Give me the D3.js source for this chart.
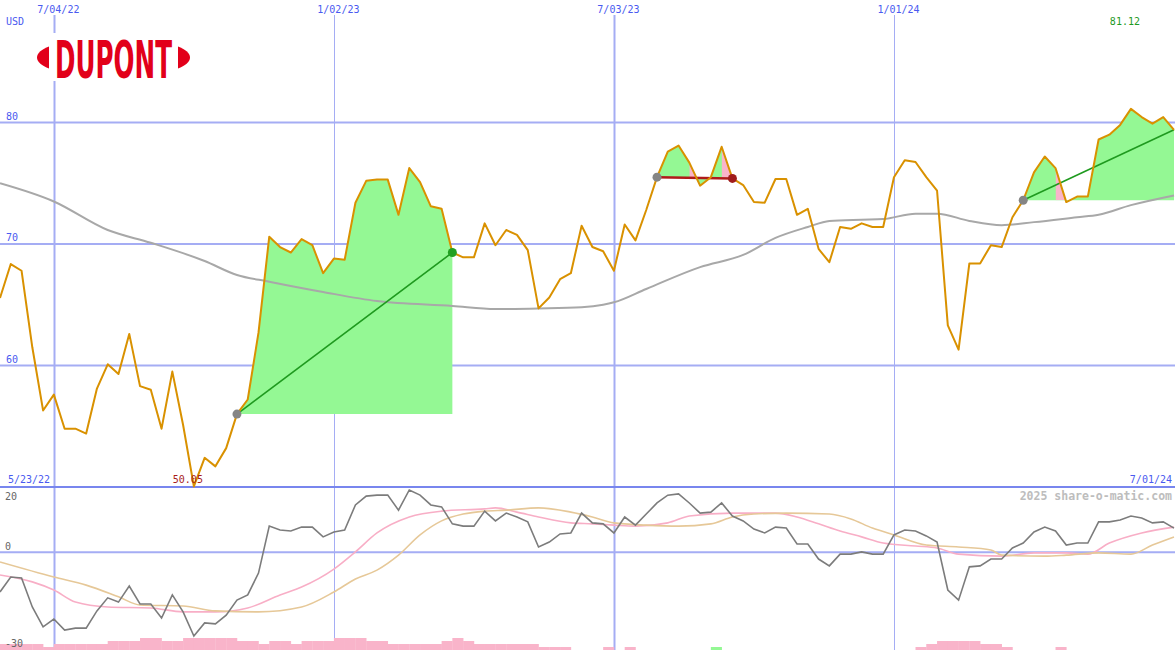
<!DOCTYPE html>
<html><head><meta charset="utf-8">
<script src="https://cdn.jsdelivr.net/npm/d3@7"></script>
<style>html,body{margin:0;padding:0;background:#fff;}svg{display:block;}</style>
</head><body><svg id="c" width="1175" height="650"></svg>
<script>
// ---------- DATA ----------
const startDate = "2022-05-30"; // first weekly point (left edge)
const price = [65.55,68.35,67.8,61.5,56.3,57.6,54.8,54.8,54.4,58.1,
 60.1,59.3,62.6,58.3,58.0,54.8,59.5,55.1,50.05,52.4,
 51.7,53.2,56.0,57.2,62.7,70.6,69.75,69.3,70.4,69.9,
 67.6,68.8,68.7,73.4,75.2,75.3,75.3,72.4,76.25,75.1,
 73.1,72.9,69.3,68.9,68.9,71.7,69.9,71.15,70.75,69.5,
 64.7,65.6,67.1,67.6,71.5,69.75,69.4,67.8,71.6,70.3,
 72.8,75.5,77.6,78.1,76.7,74.8,75.5,78.0,75.4,74.85,
 73.45,73.4,75.35,75.35,72.4,72.9,69.6,68.5,71.4,71.25,
 71.7,71.4,71.4,75.5,76.9,76.75,75.5,74.4,63.3,61.3,
 68.4,68.4,69.9,69.75,72.2,73.6,75.9,77.2,76.25,73.45,
 73.9,73.9,78.6,79.0,79.8,81.12,80.45,79.9,80.45,79.4];
const maIdx = [0,5,10,14,19,22,25,30,35,42,46,50,54,56,57,60,65,69,72,75,77,80,82,85,87,90,93,96,100,102,105,109];
const maVal = [75.0,73.5,71.15,70.1,68.6,67.45,66.9,66.05,65.3,64.9,64.65,64.7,64.8,65.0,65.2,66.3,68.1,69.1,70.5,71.4,71.9,72.0,72.05,72.5,72.5,71.9,71.55,71.8,72.2,72.4,73.2,74.0];
const osc = [-12.2,-7.6,-7.9,-16.8,-22.9,-20.5,-23.9,-23.3,-23.3,-18.0,
 -14.0,-15.3,-10.4,-15.9,-15.9,-20.2,-13.1,-18.3,-25.7,-21.7,
 -22.0,-19.3,-14.7,-13.1,-6.4,8.0,6.8,6.5,7.7,7.7,
 4.7,6.2,6.8,14.5,17.2,17.5,17.5,12.9,19.1,17.5,
 14.5,13.9,8.7,8.0,8.0,12.6,9.6,12.0,10.8,9.3,
 1.6,3.1,5.6,5.9,12.0,9.0,8.7,5.9,10.8,8.3,
 11.7,15.1,17.5,17.9,15.1,12.0,12.3,15.1,11.1,9.6,
 7.1,5.9,7.7,7.4,2.5,2.5,-2.1,-4.2,-0.6,-0.6,
 0.1,-0.6,-0.6,5.3,6.8,6.5,5.0,3.1,-11.6,-14.7,
 -4.5,-4.2,-2.1,-2.1,1.3,2.8,6.2,7.7,6.5,2.2,
 2.8,2.8,9.3,9.3,9.9,11.1,10.5,9.0,9.3,7.4];
const sigIdx = [0,3,5,7,10,14,17,20,23,26,28,31,33,35,38,41,45,46,48,50,53,55,57,59,62,64,68,70,72,74,76,78,80,82,85,87,89,93,96,99,101,103,106,109];
const sigVal = [-7.0,-9.1,-11.6,-15.3,-16.8,-17.1,-18.3,-18.3,-17.1,-13.1,-10.7,-5.2,0.1,5.9,10.8,12.6,13.3,13.6,12.3,10.8,9.0,8.7,8.3,8.0,9.0,11.1,12.0,12.0,12.0,10.8,8.7,6.5,4.7,2.8,1.9,1.3,-0.6,-1.2,-0.2,-0.2,-0.6,2.8,5.9,7.7];
const slowIdx = [0,5,8,11,13,17,20,24,28,31,33,35,37,39,41,43,45,47,50,53,55,57,60,63,66,68,70,73,77,79,81,83,86,89,92,93,97,99,102,105,107,109];
const slowVal = [-3.0,-7.6,-10.1,-13.7,-16.2,-16.5,-18.0,-18.3,-16.8,-12.2,-8.2,-5.5,-0.9,5.3,9.6,11.7,12.6,12.9,13.6,12.3,10.8,9.0,8.3,8.0,8.7,10.8,11.7,12.0,11.7,10.2,7.4,5.3,2.2,1.6,0.7,-0.9,-1.2,-0.9,-0.2,-0.6,2.2,4.7];
const hist = [2,2,2,2,1,2,2,2,2,2,
 3,3,3,4,4,3,3,4,4,4,
 4,4,3,3,2,3,3,2,3,3,
 3,4,4,4,3,3,2,2,2,2,
 2,3,4,3,2,2,2,2,2,2,
 1,1,1,0,0,0,1,0,1,0,
 0,0,0,0,0,0,1,0,0,0,
 0,0,0,0,0,0,0,0,0,0,
 0,0,0,0,0,1,2,3,3,3,
 3,2,2,1,0,0,0,0,1,0,
 0,0,0,0,0,0,0,0,0,0];
const histGreen = [66];
const trendStart = [22, 61, 95];
const trendEnd = [42, 68, 109];
const trendClosed = [true, true, false];
const pinkSegs = [64, 67, 98];
const dateTicks = ["2022-07-04","2023-01-02","2023-07-03","2024-01-01"];
const dateTickLabels = ["7/04/22","1/02/23","7/03/23","1/01/24"];
const firstLabel = "5/23/22", lastLabel = "7/01/24";
const priceTicks = [60,70,80];
const lowTicks = [20,0,-30];
const currency = "USD";
const credit = "2025 share-o-matic.com";
const brand = "DUPONT";

// ---------- SCALES ----------
const parse = d3.utcParse("%Y-%m-%d");
const t0 = parse(startDate);
const dates = price.map((_, i) => d3.utcDay.offset(t0, 7 * i));
const x = d3.scaleUtc().domain([t0, dates[dates.length - 1]]).range([0, 1174]);
const yP = d3.scaleLinear().domain([50, 90]).range([487, 1]);
const yL = d3.scaleLinear().domain([-30, 20]).range([650, 487]);
const yH = d3.scaleLinear().domain([0, 4]).range([650, 638]);

const svg = d3.select("#c");
const FONT = "'DejaVu Sans Mono', monospace";
const GRID = "#a5adf4";
svg.append("rect").attr("width", 1175).attr("height", 650).attr("fill", "#ffffff");

// ---------- GRID ----------
svg.append("g").selectAll("line").data(priceTicks).join("line")
  .attr("x1", 0).attr("x2", 1175).attr("y1", d => yP(d)).attr("y2", d => yP(d))
  .attr("stroke", GRID).attr("stroke-width", 2);
svg.append("g").selectAll("line").data(dateTicks).join("line")
  .attr("x1", d => Math.round(x(parse(d))) + 0.5).attr("x2", d => Math.round(x(parse(d))) + 0.5)
  .attr("y1", 15).attr("y2", 650)
  .attr("stroke", GRID).attr("stroke-width", (d, i) => i % 2 === 0 ? 2 : 1);
svg.append("line").attr("x1", 0).attr("x2", 1175).attr("y1", yL(0)).attr("y2", yL(0))
  .attr("stroke", GRID).attr("stroke-width", 2);
svg.append("line").attr("x1", 0).attr("x2", 1175).attr("y1", yP(50)).attr("y2", yP(50))
  .attr("stroke", "#7886ee").attr("stroke-width", 2);

// ---------- HISTOGRAM ----------
svg.append("g").selectAll("rect").data(hist.map((v, i) => ({v, i})).filter(d => d.v > 0)).join("rect")
  .attr("x", d => x(dates[d.i]))
  .attr("width", d => x(d3.utcDay.offset(dates[d.i], 7)) - x(dates[d.i]) + 0.3)
  .attr("y", d => yH(d.v)).attr("height", d => yH(0) - yH(d.v))
  .attr("fill", d => histGreen.includes(d.i) ? "#94f894" : "#f9b4ca");

// ---------- TREND FILLS ----------
const pts = price.map((p, i) => ({i, d: dates[i], p}));
const defs = svg.append("defs");
trendStart.forEach((s, j) => {
  const e = trendEnd[j];
  const base = yP(price[s]);
  const area = d3.area().x(d => x(d.d)).y0(base).y1(d => yP(d.p));
  svg.append("path").attr("d", area(pts.slice(s, e + 1))).attr("fill", "#94f894");
  pinkSegs.filter(k => k >= s && k < e).forEach(k => {
    const id = "clip" + k;
    defs.append("clipPath").attr("id", id).append("rect")
      .attr("x", x(dates[k])).attr("y", 0)
      .attr("width", x(dates[k + 1]) - x(dates[k])).attr("height", base);
    svg.append("path").attr("d", area(pts.slice(k, k + 2)))
      .attr("fill", "#f9b4ca").attr("clip-path", `url(#${id})`);
  });
});

// ---------- MOVING AVERAGE ----------
const maPts = maIdx.map((k, n) => ({d: dates[k], v: maVal[n]}));
svg.append("path").attr("d", d3.line().x(d => x(d.d)).y(d => yP(d.v)).curve(d3.curveMonotoneX)(maPts))
  .attr("fill", "none").attr("stroke", "#a8a8a8").attr("stroke-width", 2);

// ---------- TREND LINES ----------
const trendColor = ["#1f9a1f", "#b01a1a", "#1f9a1f"];
trendStart.forEach((s, j) => {
  const e = trendEnd[j];
  svg.append("line").attr("x1", x(dates[s])).attr("y1", yP(price[s]))
    .attr("x2", x(dates[e])).attr("y2", yP(price[e]))
    .attr("stroke", trendColor[j]).attr("stroke-width", j === 1 ? 2.5 : 1.6);
});

// ---------- PRICE LINE ----------
svg.append("path").attr("d", d3.line().x(d => x(d.d)).y(d => yP(d.p))(pts))
  .attr("fill", "none").attr("stroke", "#d99100").attr("stroke-width", 2).attr("stroke-linejoin", "round");

// ---------- MARKERS ----------
const endColor = ["#22a022", "#a01c1c", null];
trendStart.forEach((s, j) => {
  svg.append("circle").attr("cx", x(dates[s])).attr("cy", yP(price[s])).attr("r", 4.5).attr("fill", "#858585");
  if (trendClosed[j]) {
    const e = trendEnd[j];
    svg.append("circle").attr("cx", x(dates[e])).attr("cy", yP(price[e])).attr("r", 4.5).attr("fill", endColor[j]);
  }
});

// ---------- LOWER PANEL LINES ----------
const lineL = d3.line().x(d => x(d.d)).y(d => yL(d.v));
svg.append("path").attr("d", lineL.curve(d3.curveMonotoneX)(sigIdx.map((k, n) => ({d: dates[k], v: sigVal[n]}))))
  .attr("fill", "none").attr("stroke", "#f8aec6").attr("stroke-width", 1.6);
svg.append("path").attr("d", lineL.curve(d3.curveMonotoneX)(slowIdx.map((k, n) => ({d: dates[k], v: slowVal[n]}))))
  .attr("fill", "none").attr("stroke", "#e6c898").attr("stroke-width", 1.6);
svg.append("path").attr("d", lineL.curve(d3.curveLinear)(osc.map((v, i) => ({d: dates[i], v}))))
  .attr("fill", "none").attr("stroke", "#7c7c7c").attr("stroke-width", 1.6);

// ---------- LOGO ----------
const logo = svg.append("g");
logo.append("rect").attr("x", 30).attr("y", 33).attr("width", 166).attr("height", 48).attr("fill", "#ffffff");
logo.append("path").attr("d", "M49,46.5 C42,49 37,53 37,57.5 C37,62 42,66 49,68.5 Z").attr("fill", "#e2001a");
logo.append("path").attr("d", "M178,46.5 C185,49 190,53 190,57.5 C190,62 185,66 178,68.5 Z").attr("fill", "#e2001a");
logo.append("text").attr("x", 55).attr("y", 78).text(brand)
  .attr("font-family", "'Liberation Sans Narrow', 'DejaVu Sans Condensed', 'Liberation Sans', sans-serif")
  .attr("font-weight", "bold").attr("font-size", 51).attr("fill", "#e2001a")
  .attr("textLength", 117).attr("lengthAdjust", "spacingAndGlyphs");

// ---------- AXES / LABELS ----------
const topAxis = svg.append("g").attr("transform", "translate(4,0)")
  .call(d3.axisBottom(x).tickValues(dateTicks.map(parse)).tickFormat((d, i) => dateTickLabels[i]).tickSize(0).tickPadding(0));
topAxis.select(".domain").remove();
topAxis.selectAll("text").attr("y", 13).attr("dy", null)
  .attr("font-family", FONT).attr("font-size", 10).attr("fill", "#4a5af0");

const pAxis = svg.append("g").attr("transform", "translate(6,0)")
  .call(d3.axisRight(yP).tickValues(priceTicks).tickFormat(d => String(d)).tickSize(0).tickPadding(0));
pAxis.select(".domain").remove();
pAxis.selectAll("text").attr("dy", "-3.5")
  .attr("font-family", FONT).attr("font-size", 10).attr("fill", "#4a5af0").attr("text-anchor", "start");

const lAxis = svg.append("g").attr("transform", "translate(5,0)")
  .call(d3.axisRight(yL).tickValues(lowTicks).tickFormat(d => String(d)).tickSize(0).tickPadding(0));
lAxis.select(".domain").remove();
lAxis.selectAll("text").attr("dy", d => d === 20 ? "12" : (d === 0 ? "-2.5" : "-4"))
  .attr("font-family", FONT).attr("font-size", 10).attr("fill", "#666666").attr("text-anchor", "start");

const txt = (t, xx, yy, anchor, color, extra) => {
  const s = svg.append("text").attr("x", xx).attr("y", yy).text(t)
    .attr("font-family", FONT).attr("font-size", 10).attr("fill", color).attr("text-anchor", anchor);
  if (extra) extra(s);
  return s;
};
txt(currency, 6, 24.5, "start", "#4a5af0");
txt(firstLabel, 8, 483, "start", "#4a5af0");
txt(lastLabel, 1172, 483, "end", "#4a5af0");
const maxI = d3.maxIndex(price), minI = d3.minIndex(price);
txt(price[maxI].toFixed(2), x(dates[maxI]) - 6, 25, "middle", "#1f9a1f");
txt(price[minI].toFixed(2), x(dates[minI]) - 6, 483, "middle", "#a81c1c");
txt(credit, 1172, 500, "end", "#bdbdbd", s => s.attr("font-weight", "bold").attr("font-size", 11.5));
</script></body></html>
